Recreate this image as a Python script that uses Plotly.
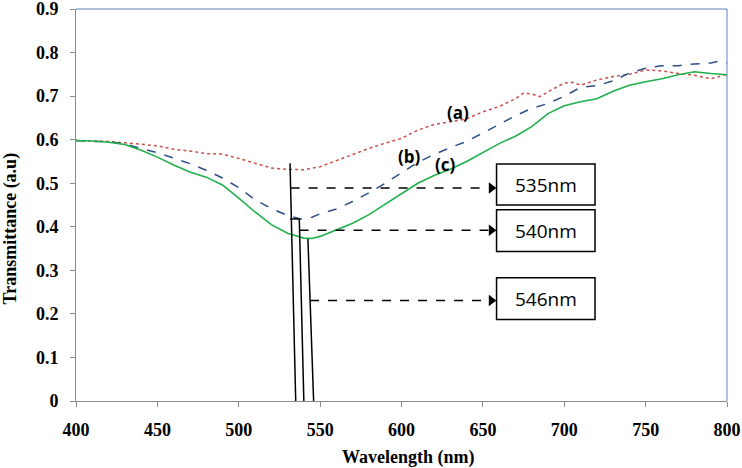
import plotly.graph_objects as go

# spectra (wavelength nm, transmittance a.u)
wl_a = [400, 410, 420, 430, 440, 450, 460, 470, 480, 490, 500, 510, 520, 530, 540,
        550, 560, 570, 580, 590, 600, 610, 620, 630, 640, 650, 660, 670, 675, 680,
        685, 690, 700, 705, 710, 720, 730, 740, 750, 760, 770, 780, 790, 800]
t_a = [0.598, 0.597, 0.596, 0.593, 0.590, 0.586, 0.578, 0.574, 0.568, 0.567, 0.557,
       0.546, 0.535, 0.532, 0.531, 0.538, 0.552, 0.567, 0.580, 0.592, 0.603, 0.622,
       0.635, 0.641, 0.648, 0.664, 0.676, 0.694, 0.707, 0.705, 0.699, 0.710, 0.730,
       0.732, 0.725, 0.737, 0.745, 0.750, 0.760, 0.758, 0.752, 0.748, 0.740, 0.750]

wl_b = [400, 410, 420, 430, 440, 450, 460, 470, 480, 490, 500, 510, 520, 530, 538,
        545, 550, 560, 570, 580, 590, 600, 610, 620, 630, 640, 650, 660, 670, 680,
        690, 700, 710, 720, 730, 740, 750, 760, 770, 780, 790, 795, 800]
t_b = [0.598, 0.596, 0.596, 0.590, 0.580, 0.570, 0.558, 0.545, 0.530, 0.512, 0.490,
       0.462, 0.442, 0.426, 0.418, 0.422, 0.430, 0.441, 0.458, 0.478, 0.500, 0.525,
       0.548, 0.566, 0.582, 0.596, 0.615, 0.635, 0.655, 0.672, 0.683, 0.700, 0.720,
       0.724, 0.735, 0.753, 0.764, 0.770, 0.770, 0.774, 0.776, 0.780, 0.776]

wl_c = [400, 410, 420, 430, 440, 450, 460, 470, 480, 490, 500, 510, 520, 530, 540,
        545, 550, 560, 570, 580, 590, 600, 610, 620, 630, 640, 650, 660, 670, 680,
        690, 700, 710, 720, 730, 740, 750, 760, 770, 780, 790, 800]
t_c = [0.598, 0.597, 0.594, 0.589, 0.576, 0.560, 0.542, 0.526, 0.514, 0.496, 0.466,
       0.434, 0.405, 0.385, 0.374, 0.373, 0.378, 0.393, 0.408, 0.428, 0.452, 0.475,
       0.500, 0.518, 0.532, 0.550, 0.571, 0.591, 0.608, 0.630, 0.660, 0.678, 0.687,
       0.694, 0.711, 0.725, 0.733, 0.740, 0.749, 0.756, 0.752, 0.749]

# band minima marked on the chart
peak_nm = [535, 540, 546]
peak_labels = ["535nm", "540nm", "546nm"]
drop_top = [(531.5, 0.546), (537.2, 0.418), (542.5, 0.372)]
arrow_t = [0.489, 0.392, 0.231]
box_t = [(0.450, 0.544), (0.343, 0.439), (0.187, 0.283)]
box_nm = (658.4, 718.9)

series_labels = ["(a)", "(b)", "(c)"]
label_pos = [(634.7, 0.662), (605.0, 0.562), (627.0, 0.543)]

serif = "Liberation Serif"
sans = "Open Sans"

fig = go.Figure()
fig.add_trace(go.Scatter(x=wl_a, y=t_a, mode="lines",
                         line=dict(color="#c9504d", width=1.5, dash="dot")))
fig.add_trace(go.Scatter(x=wl_b, y=t_b, mode="lines",
                         line=dict(color="#2f4f86", width=1.5, dash="dash")))
fig.add_trace(go.Scatter(x=wl_c, y=t_c, mode="lines",
                         line=dict(color="#1fb04c", width=1.6)))

# vertical drop lines down to the axis
for (x0, y0), x1 in zip(drop_top, peak_nm):
    fig.add_shape(type="line", x0=x0, y0=y0, x1=x1, y1=0,
                  line=dict(color="black", width=1.5))
fig.add_shape(type="line", x0=drop_top[0][0], y0=drop_top[1][1],
              x1=drop_top[1][0], y1=drop_top[1][1],
              line=dict(color="black", width=1.5))

# dashed arrows into the boxes
for (x0, y0), x1, ya in zip(drop_top, peak_nm, arrow_t):
    xs = x0 + (x1 - x0) * (y0 - ya) / y0
    fig.add_shape(type="line", x0=xs, y0=ya, x1=box_nm[0] - 5, y1=ya,
                  line=dict(color="black", width=1.5, dash="dash"))
fig.add_trace(go.Scatter(x=[box_nm[0] - 3.2] * 3, y=arrow_t, mode="markers",
                         marker=dict(symbol="triangle-right", size=10, color="black")))

for (b0, b1), txt in zip(box_t, peak_labels):
    fig.add_shape(type="rect", x0=box_nm[0], x1=box_nm[1], y0=b0, y1=b1,
                  line=dict(color="black", width=1.5), fillcolor="white")
    fig.add_annotation(x=(box_nm[0] + box_nm[1]) / 2, y=(b0 + b1) / 2, text=txt,
                       showarrow=False, font=dict(family=sans, size=19, color="black"))

for (lx, ly), txt in zip(label_pos, series_labels):
    fig.add_annotation(x=lx, y=ly, text=txt, showarrow=False,
                       font=dict(family=sans, size=17, color="black", weight="bold"))

# top/right frame
fig.add_shape(type="line", xref="paper", yref="paper", x0=0, y0=1, x1=1, y1=1,
              line=dict(color="#5a80b8", width=1))
fig.add_shape(type="line", xref="paper", yref="paper", x0=1, y0=0, x1=1, y1=1,
              line=dict(color="#5a80b8", width=1))

# axis titles
fig.add_annotation(xref="paper", yref="paper", x=0.51, y=0, yshift=-56,
                   xanchor="center", yanchor="middle",
                   text="Wavelength (nm)", showarrow=False,
                   font=dict(family=serif, size=18, color="black", weight="bold"))
fig.add_annotation(xref="paper", yref="paper", x=0, y=0.44, xshift=-65,
                   xanchor="center", yanchor="middle",
                   text="Transmittance (a.u)", showarrow=False, textangle=-90,
                   font=dict(family=serif, size=18, color="black", weight="bold"))

fig.update_layout(
    width=742, height=468,
    margin=dict(l=76, r=15, t=9, b=67, autoexpand=False),
    paper_bgcolor="white",
    plot_bgcolor="white",
    showlegend=False,
    xaxis=dict(range=[400, 800], dtick=50, tick0=400, showgrid=False, zeroline=False,
               showline=True, linecolor="#8a8a8a", linewidth=1, automargin=False,
               ticks="outside", ticklen=5, tickcolor="#8a8a8a", ticklabelstandoff=7,
               ticklabeloverflow="allow",
               tickfont=dict(family=serif, size=18, color="black", weight="bold")),
    yaxis=dict(range=[0, 0.9001], dtick=0.1, tick0=0, showgrid=False, zeroline=False,
               showline=True, linecolor="#8a8a8a", linewidth=1, automargin=False,
               ticks="outside", ticklen=5, tickcolor="#8a8a8a", ticklabelstandoff=8,
               ticklabeloverflow="allow",
               tickfont=dict(family=serif, size=18, color="black", weight="bold")),
)

fig.write_html("out.html",
               config={"displayModeBar": False, "responsive": False},
               post_script="document.body.style.margin='0';"
                           "document.body.style.overflow='hidden';")
